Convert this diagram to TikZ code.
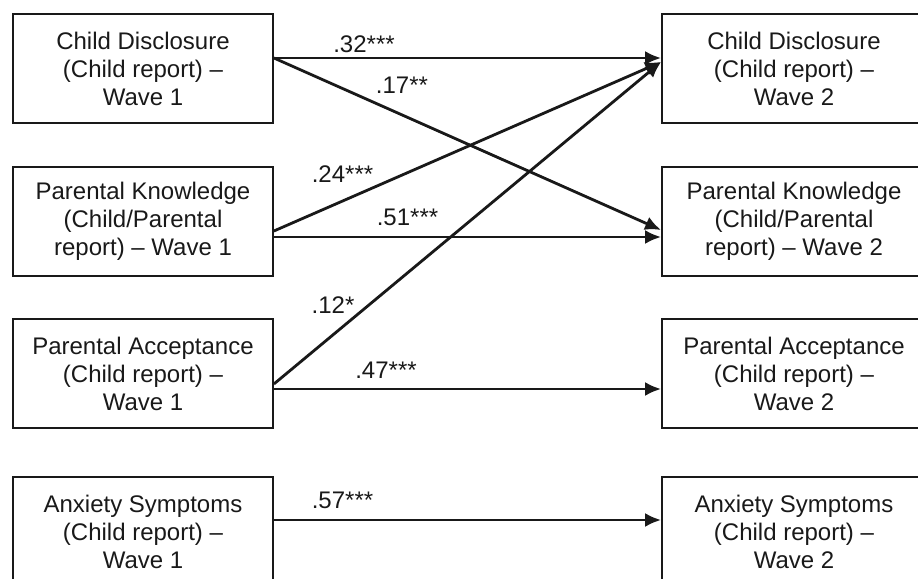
\documentclass[tikz,border=0pt]{standalone}
\usepackage{fontspec}
\setmainfont{Liberation Sans}
\usetikzlibrary{arrows.meta}
\begin{document}
\begin{tikzpicture}[x=0.5pt,y=-0.5pt,
  box/.style={draw=black!90, line width=0.9pt, minimum width=130pt, minimum height=54.5pt,
    inner sep=0pt, align=center, font=\fontsize{12}{14}\selectfont, text=black!90},
  rbox/.style={box, minimum width=132pt},
  path/.style={draw=black!90, line width=1.4pt, -{Latex[length=8pt,width=7pt]}},
  coef/.style={anchor=base, inner sep=0pt, font=\fontsize{12}{14}\selectfont, text=black!90}]
\useasboundingbox (0,0) rectangle (918,579);
\clip (0,0) rectangle (918,579);
\node[box] (L1) at (143,68.5) {Child Disclosure\\(Child report) –\\Wave 1};
\node[box] (L2) at (143,221.5) {Parental Knowledge\\(Child/Parental\\report) – Wave 1};
\node[box] (L3) at (143,373.5) {Parental Acceptance\\(Child report) –\\Wave 1};
\node[box] (L4) at (143,531.5) {Anxiety Symptoms\\(Child report) –\\Wave 1};
\node[rbox] (R1) at (794,68.5) {Child Disclosure\\(Child report) –\\Wave 2};
\node[rbox] (R2) at (794,221.5) {Parental Knowledge\\(Child/Parental\\report) – Wave 2};
\node[rbox] (R3) at (794,373.5) {Parental Acceptance\\(Child report) –\\Wave 2};
\node[rbox] (R4) at (794,531.5) {Anxiety Symptoms\\(Child report) –\\Wave 2};
\draw[path] ([yshift=5.25pt]L1.east) -- ([yshift=5.25pt]R1.west);
\draw[path] ([yshift=5.25pt]L1.east) -- ([yshift=-4.25pt]R2.west);
\draw[path] ([yshift=-4.75pt]L2.east) -- ([yshift=3.25pt]R1.west);
\draw[path] ([yshift=-7.75pt]L2.east) -- ([yshift=-7.75pt]R2.west);
\draw[path] ([yshift=-5.25pt]L3.east) -- ([yshift=3.25pt]R1.west);
\draw[path] ([yshift=-7.75pt]L3.east) -- ([yshift=-7.75pt]R3.west);
\draw[path] ([yshift=5.75pt]L4.east) -- ([yshift=5.75pt]R4.west);
\node[coef] (c1) at (364,52) {.32***};
\node[coef] (c2) at (402,93) {.17**};
\node[coef] (c3) at (342.5,182) {.24***};
\node[coef] (c4) at (407.5,225) {.51***};
\node[coef] (c5) at (333,313) {.12*};
\node[coef] (c6) at (386,378) {.47***};
\node[coef] (c7) at (342.5,508) {.57***};
\end{tikzpicture}
\end{document}
